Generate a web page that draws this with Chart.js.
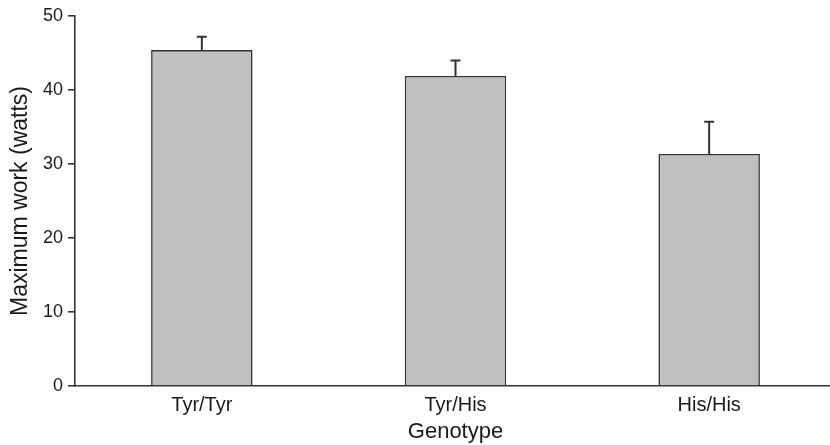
<!DOCTYPE html>
<html>
<head>
<meta charset="utf-8">
<script src="https://cdn.jsdelivr.net/npm/chart.js@4/dist/chart.umd.min.js"></script>
<style>
html,body{margin:0;padding:0;background:#fff;overflow:hidden;width:830px;height:445px;}
#wrap{position:relative;width:836px;height:445px;}
</style>
</head>
<body>
<div id="wrap"><canvas id="c" width="836" height="445"></canvas></div>
<script>
const categories = ["Tyr/Tyr", "Tyr/His", "His/His"];
const meanWork = [45.4, 41.9, 31.35];
const errorUpper = [47.2, 44.0, 35.7];
const yTicks = [0, 10, 20, 30, 40, 50];

const FONT = "'Liberation Sans', Arial, Helvetica, sans-serif";
const INK = '#1a1a1a';

const errorBarPlugin = {
  id: 'errorBars',
  afterDatasetsDraw(chart) {
    const ctx = chart.ctx;
    const meta = chart.getDatasetMeta(0);
    const ys = chart.scales.y;
    ctx.save();
    ctx.strokeStyle = '#333';
    ctx.lineWidth = 2;
    meta.data.forEach((bar, i) => {
      const x = bar.x;
      const yb = ys.getPixelForValue(meanWork[i]);
      const yt = ys.getPixelForValue(errorUpper[i]);
      ctx.beginPath();
      ctx.moveTo(x, yb);
      ctx.lineTo(x, yt);
      ctx.moveTo(x - 5, yt);
      ctx.lineTo(x + 5, yt);
      ctx.stroke();
    });
    ctx.restore();
  }
};

new Chart(document.getElementById('c'), {
  type: 'bar',
  data: {
    labels: categories,
    datasets: [{
      data: meanWork,
      backgroundColor: '#c0c0c0',
      borderColor: '#333',
      borderWidth: 1.6,
      barPercentage: 0.4,
      categoryPercentage: 1.0
    }]
  },
  options: {
    responsive: false,
    animation: false,
    layout: { padding: { top: 16, right: 0, left: 0, bottom: 0 } },
    plugins: { legend: { display: false }, tooltip: { enabled: false } },
    scales: {
      x: {
        type: 'category',
        grid: { display: false, drawTicks: false },
        border: { display: true, color: '#333', width: 1.6 },
        ticks: { color: INK, font: { family: FONT, size: 20 }, padding: 7 },
        title: { display: true, text: 'Genotype', color: INK, font: { family: FONT, size: 22 }, padding: { top: 4, bottom: 0 } },
        afterFit(scale) { scale.height = 59; }
      },
      y: {
        min: 0, max: 50,
        afterBuildTicks(scale) { scale.ticks = yTicks.map(v => ({ value: v })); },
        grid: { drawOnChartArea: false, drawTicks: true, tickLength: 7, color: '#333', lineWidth: 1.6 },
        border: { display: true, color: '#333', width: 1.6 },
        ticks: { color: INK, font: { family: FONT, size: 18 }, padding: 5 },
        title: { display: true, text: 'Maximum work (watts)', color: INK, font: { family: FONT, size: 23 }, padding: { top: 7, bottom: 0 } },
        afterFit(scale) { scale.width = 75; }
      }
    }
  },
  plugins: [errorBarPlugin]
});
</script>
</body>
</html>
